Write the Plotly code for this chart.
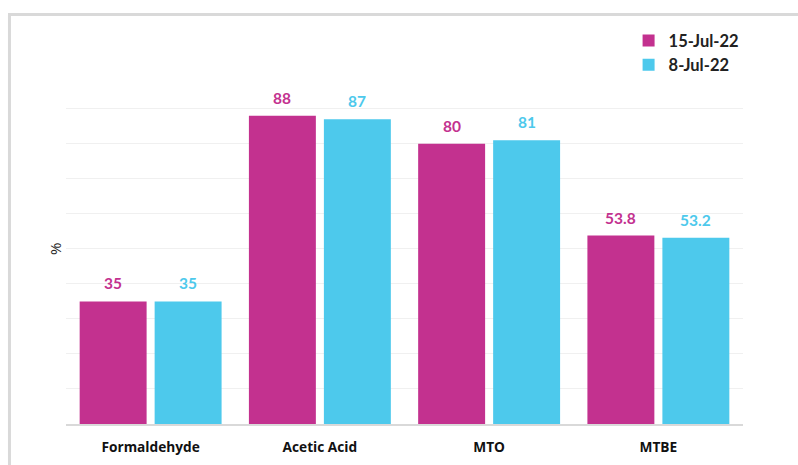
import plotly.graph_objects as go

# Operating rates by product, two weekly snapshots
products = ["Formaldehyde", "Acetic Acid", "MTO", "MTBE"]
week_jul15 = [35, 88, 80, 53.8]
week_jul08 = [35, 87, 81, 53.2]
series_names = ["15-Jul-22", "8-Jul-22"]
label_text_jul15 = ["35", "88", "80", "53.8"]
label_text_jul08 = ["35", "87", "81", "53.2"]

PINK = "#C3318F"
BLUE = "#4DC9EC"
BAR_GAP = 0.114
GROUP_GAP = 0.107

fig = go.Figure()
fig.add_trace(go.Bar(name=series_names[0], x=products, y=week_jul15,
                     marker=dict(color=PINK, line=dict(width=0))))
fig.add_trace(go.Bar(name=series_names[1], x=products, y=week_jul08,
                     marker=dict(color=BLUE, line=dict(width=0))))

# value labels above each bar
half_slot = (1 - BAR_GAP) / 4
annotations = []
for i, p in enumerate(products):
    for vals, texts, col, sign in ((week_jul15, label_text_jul15, PINK, -1),
                                   (week_jul08, label_text_jul08, BLUE, 1)):
        annotations.append(dict(
            x=i + sign * half_slot, y=vals[i], xref="x", yref="y",
            text=f"<b>{texts[i]}</b>", showarrow=False,
            yanchor="bottom", yshift=7,
            font=dict(family="Lato", size=15.5, color=col)))

# y axis title
annotations.append(dict(x=-0.017, y=0.5, xref="paper", yref="paper",
                        xanchor="center", yanchor="middle",
                        text="%", textangle=-90, showarrow=False,
                        font=dict(family="Open Sans", size=15, color="#222222")))

fig.update_layout(
    width=798, height=465,
    margin=dict(l=66, r=55, t=73, b=41, autoexpand=False),
    paper_bgcolor="white", plot_bgcolor="white",
    barmode="group", bargap=BAR_GAP, bargroupgap=GROUP_GAP,
    showlegend=True,
    legend=dict(x=0.831, y=1.142, xanchor="left", yanchor="top",
                font=dict(family="Lato", size=16.5, color="#222222",
                          weight="bold"),
                bgcolor="rgba(0,0,0,0)", itemwidth=30, tracegroupgap=0,
                traceorder="normal"),
    annotations=annotations,
    shapes=[
        dict(type="line", xref="paper", yref="paper",
             x0=-0.0835, x1=-0.0835, y0=-0.2, y1=1.1667,
             line=dict(color="#D9D9D9", width=3)),
        dict(type="line", xref="paper", yref="paper",
             x0=-0.0857, x1=1.1, y0=1.1667, y1=1.1667,
             line=dict(color="#D9D9D9", width=3)),
    ],
    font=dict(family="Open Sans"),
)
fig.update_xaxes(showline=True, linecolor="#D9D9D9", linewidth=1.5,
                 showgrid=False, ticks="outside", ticklen=10,
                 tickcolor="rgba(0,0,0,0)", automargin=False,
                 tickfont=dict(family="Open Sans", size=13.7, color="#111111",
                               weight="bold"))
fig.update_yaxes(range=[0, 100.2], tick0=0, dtick=10, showgrid=True,
                 gridcolor="#F0F0F0", gridwidth=1, showticklabels=False,
                 zeroline=False, showline=False, automargin=False)

fig.write_html("out.html")
